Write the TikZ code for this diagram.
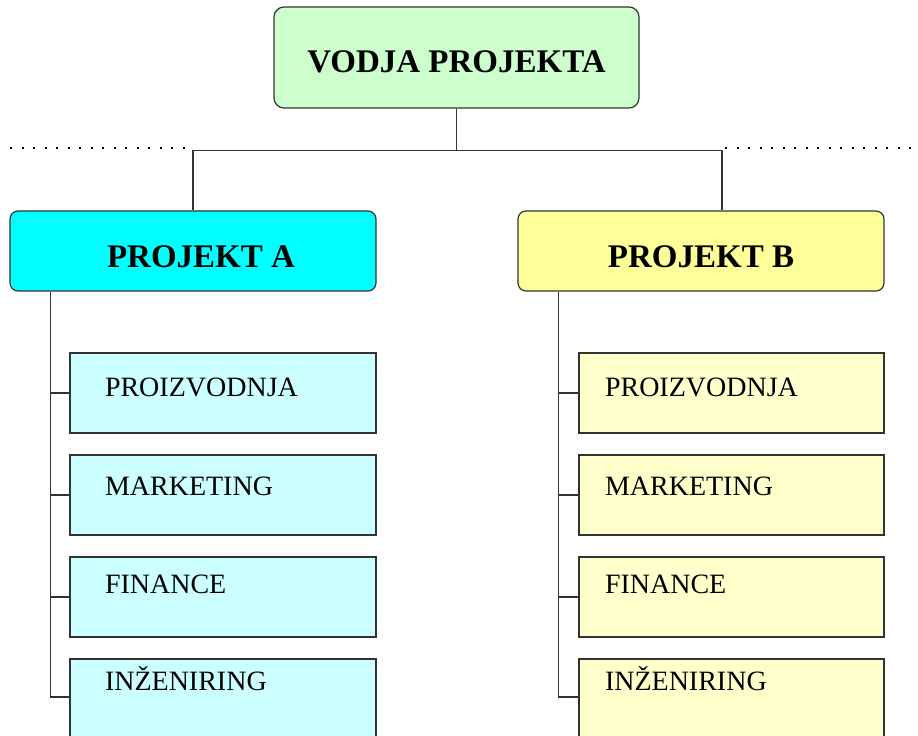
\documentclass[tikz,border=0pt]{standalone}
\usepackage{fontspec}
\setmainfont{Liberation Serif}
\usepackage{tikz}
\usetikzlibrary{positioning}

\definecolor{vodjagreen}{HTML}{CCFFCC}
\definecolor{projcyan}{HTML}{00FFFF}
\definecolor{projyellow}{HTML}{FFFF99}
\definecolor{oddcyan}{HTML}{CCFFFF}
\definecolor{oddyellow}{HTML}{FFFFCC}

\begin{document}
\begin{tikzpicture}[
  x=1pt, y=-1pt,
  every node/.style={draw=black!80, line width=1.2pt, inner sep=0pt},
  head/.style={rounded corners=10pt, fill=vodjagreen, minimum width=365pt, minimum height=101pt,
    font=\fontsize{33}{36}\selectfont\bfseries, text height=29pt, text depth=0pt},
  proj/.style={rounded corners=8pt, minimum width=366pt, minimum height=80pt,
    font=\fontsize{33}{36}\selectfont\bfseries, text height=32pt, text depth=0pt},
  odd/.style={minimum height=80pt, align=flush left, font=\fontsize{28}{32}\selectfont,
    text height=20pt, text depth=#1},
  oddA/.style={odd=#1, fill=oddcyan, inner xsep=35pt, text width=236pt},
  oddB/.style={odd=#1, fill=oddyellow, inner xsep=26pt, text width=253pt},
  link/.style={draw=black!80, line width=1.2pt},
  dots/.style={line width=2pt, dash pattern=on 2pt off 9.5pt}
]
\useasboundingbox (0,0) rectangle (918,736);

% vrh
\node[head] (vp) at (456.5,57.5) {VODJA PROJEKTA};

% projekta
\node[proj, fill=projcyan, text width=204pt, align=flush right] (pa) at (193,251) {PROJEKT A};
\node[proj, fill=projyellow] (pb) at (701,251) {PROJEKT B};

% oddelki A
\node[oddA=13pt] (sA1) at (223,393) {PROIZVODNJA};
\node[oddA=19pt] (sA2) at (223,495) {MARKETING};
\node[oddA=28pt] (sA3) at (223,597) {FINANCE};
\node[oddA=38pt] (sA4) at (223,699) {INŽENIRING};

% oddelki B
\node[oddB=13pt] (sB1) at (731.5,393) {PROIZVODNJA};
\node[oddB=19pt] (sB2) at (731.5,495) {MARKETING};
\node[oddB=28pt] (sB3) at (731.5,597) {FINANCE};
\node[oddB=38pt] (sB4) at (731.5,699) {INŽENIRING};

% povezave
\coordinate (hub) at ([yshift=-42pt]vp.south);
\draw[link] (vp.south) -- (hub);
\draw[link] (pa.north) |- (hub) -| ([xshift=21pt]pb.north);

\coordinate (ta) at ([xshift=41pt]pa.south west);
\coordinate (tb) at ([xshift=41pt]pb.south west);
\draw[link] (ta) |- ([yshift=2pt]sA4.west);
\draw[link] (tb) |- ([yshift=2pt]sB4.west);
\draw[link] (ta |- sA1.west) -- (sA1.west);
\draw[link] (ta |- sA2.west) -- (sA2.west);
\draw[link] (ta |- sA3.west) -- (sA3.west);
\draw[link] (tb |- sB1.west) -- (sB1.west);
\draw[link] (tb |- sB2.west) -- (sB2.west);
\draw[link] (tb |- sB3.west) -- (sB3.west);

% pikčasti črti
\coordinate (dl1) at (10,148);
\coordinate (dl2) at (192,148);
\coordinate (dr1) at (725,148);
\coordinate (dr2) at (918,148);
\draw[dots] (dl1) -- (dl2);
\draw[dots] (dr1) -- (dr2);
\end{tikzpicture}
\end{document}
